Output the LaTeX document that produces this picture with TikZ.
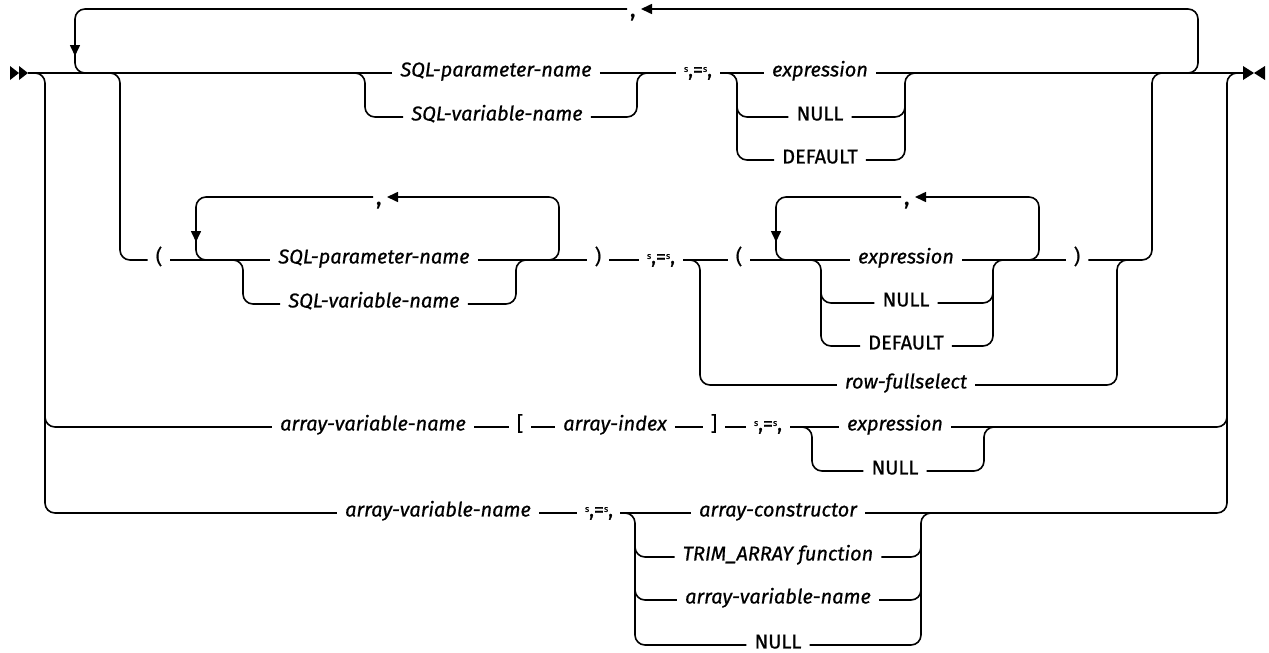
\documentclass[tikz,border=0pt]{standalone}
\usepackage{fontspec}
\setmainfont{Fira Sans}[UprightFeatures={FakeBold=0.7}, ItalicFeatures={FakeBold=0.7}]
\usetikzlibrary{arrows.meta}
\newcommand{\eqtok}{{\fontsize{9}{9}\selectfont\raisebox{0.5em}{s}},={\fontsize{9}{9}\selectfont\raisebox{0.5em}{s}},}
\tikzset{
  rail/.style={line width=1.6pt, rounded corners=10pt},
  looptip/.style={-{Triangle[length=11pt,width=10pt]}},
  txtbase/.style={font=\fontsize{20}{24}\selectfont, inner xsep=8pt, inner ysep=0pt, text height=0.69em, text depth=0pt},
  vartext/.style={txtbase, font=\fontsize{20}{24}\selectfont\itshape},
  kwtext/.style={txtbase},
  commanode/.style={font=\fontsize{21}{24}\selectfont\bfseries, inner sep=0pt, anchor=base},
  endmark/.style={fill=black},
}
\begin{document}
\begin{tikzpicture}[x=1pt,y=-1pt]
\useasboundingbox (0,0) rectangle (1269,653);
% start and end
\coordinate (start) at (28,73);
\coordinate (end) at (1243,73);
\fill[endmark] (10,66) -- (19,73) -- (10,80) -- cycle;
\fill[endmark] (19,66) -- (28,73) -- (19,80) -- cycle;
\fill[endmark] (1243,66) -- (1254,73) -- (1243,80) -- cycle;
\fill[endmark] (1265,66) -- (1254,73) -- (1265,80) -- cycle;

% ---------- row 1 ----------
\node[vartext] (p1) at (496,73) {SQL-parameter-name};
\node[vartext] (v1) at (497,117) {SQL-variable-name};
\node[kwtext] (eq1) at (698,73) {\eqtok};
\node[vartext] (e1) at (820,73) {expression};
\node[kwtext] (n1) at (820,117) {NULL};
\node[kwtext] (d1) at (820,160) {DEFAULT};
\node[commanode] (c1) at (633,17) {,};
\coordinate (c1w) at (627,9);
\coordinate (c1e) at (641,9);

\draw[rail] (start) -- (p1.west);
\draw[rail] (p1.east) -- (eq1.west);
\draw[rail] (eq1.east) -- (e1.west);
\draw[rail] (e1.east) -- (end);
% repeat loop
\draw[rail,looptip] (1180,73) -- (1198,73) -- (1198,9) -- (c1e);
\draw[rail,looptip] (c1w) -- (75,9) -- (75,56);
\draw[rail] (75,48) -- (75,73) -- (95,73);
% SQL-variable-name branch
\draw[rail] (350,73) -- (365,73) -- (365,117) -- (v1.west);
\draw[rail] (v1.east) -- (637,117) -- (637,73) -- (652,73);
% value choice
\draw[rail] (722,73) -- (737,73) -- (737,160) -- (d1.west);
\draw[rail] (737,105) -- (737,117) -- (n1.west);
\draw[rail] (d1.east) -- (905,160) -- (905,73) -- (920,73);
\draw[rail] (n1.east) -- (905,117) -- (905,105);

% ---------- row 2 ----------
\node[kwtext] (lp2) at (159,260) {(};
\node[vartext] (p2) at (374,260) {SQL-parameter-name};
\node[vartext] (v2) at (374,304) {SQL-variable-name};
\node[kwtext] (rp2) at (598,260) {)};
\node[kwtext] (eq2) at (661,260) {\eqtok};
\node[kwtext] (lp3) at (739,260) {(};
\node[vartext] (e2) at (906,260) {expression};
\node[kwtext] (n2) at (906,303) {NULL};
\node[kwtext] (d2) at (906,346) {DEFAULT};
\node[kwtext] (rp3) at (1077,260) {)};
\node[vartext] (rf) at (906,385) {row-fullselect};
\node[commanode] (c2) at (379,205) {,};
\coordinate (c2w) at (373,197);
\coordinate (c2e) at (387,197);
\node[commanode] (c3) at (907,205) {,};
\coordinate (c3w) at (901,197);
\coordinate (c3e) at (915,197);

\draw[rail] (100,73) -- (120,73) -- (120,260) -- (lp2.west);
\draw[rail] (lp2.east) -- (p2.west);
\draw[rail,looptip] (540,260) -- (559,260) -- (559,197) -- (c2e);
\draw[rail,looptip] (c2w) -- (196,197) -- (196,242);
\draw[rail] (196,234) -- (196,260) -- (215,260);
\draw[rail] (228,260) -- (243,260) -- (243,304) -- (v2.west);
\draw[rail] (v2.east) -- (516,304) -- (516,260) -- (531,260);
\draw[rail] (p2.east) -- (rp2.west);
\draw[rail] (rp2.east) -- (eq2.west);
\draw[rail] (eq2.east) -- (lp3.west);
\draw[rail] (685,260) -- (700,260) -- (700,385) -- (rf.west);
\draw[rail] (rf.east) -- (1117,385) -- (1117,260) -- (1132,260);
\draw[rail] (lp3.east) -- (e2.west);
\draw[rail,looptip] (1020,260) -- (1039,260) -- (1039,197) -- (c3e);
\draw[rail,looptip] (c3w) -- (776,197) -- (776,242);
\draw[rail] (776,234) -- (776,260) -- (795,260);
\draw[rail] (806,260) -- (821,260) -- (821,346) -- (d2.west);
\draw[rail] (821,291) -- (821,303) -- (n2.west);
\draw[rail] (d2.east) -- (993,346) -- (993,260) -- (1008,260);
\draw[rail] (n2.east) -- (993,303) -- (993,291);
\draw[rail] (e2.east) -- (rp3.west);
\draw[rail] (rp3.east) -- (1152,260) -- (1152,73) -- (1167,73);

% ---------- row 3 ----------
\node[vartext] (a3) at (373,427) {array-variable-name};
\node[kwtext] (lb) at (520,427) {[};
\node[vartext] (ai) at (615,427) {array-index};
\node[kwtext] (rb) at (714,427) {]};
\node[kwtext] (eq3) at (768,427) {\eqtok};
\node[vartext] (e3) at (895,427) {expression};
\node[kwtext] (n3) at (895,471) {NULL};

\draw[rail] (45,400) -- (45,427) -- (a3.west);
\draw[rail] (a3.east) -- (lb.west);
\draw[rail] (lb.east) -- (ai.west);
\draw[rail] (ai.east) -- (rb.west);
\draw[rail] (rb.east) -- (eq3.west);
\draw[rail] (eq3.east) -- (e3.west);
\draw[rail] (797,427) -- (812,427) -- (812,471) -- (n3.west);
\draw[rail] (n3.east) -- (984,471) -- (984,427) -- (999,427);
\draw[rail] (e3.east) -- (1227,427) -- (1227,405);

% ---------- row 4 ----------
\node[vartext] (a4) at (438,513) {array-variable-name};
\node[kwtext] (eq4) at (599,513) {\eqtok};
\node[vartext] (ac) at (778,513) {array-constructor};
\node[vartext] (tr) at (778,557) {TRIM\_ARRAY function};
\node[vartext] (av) at (778,600) {array-variable-name};
\node[kwtext] (n4) at (778,645) {NULL};

\draw[rail] (30,73) -- (45,73) -- (45,513) -- (a4.west);
\draw[rail] (a4.east) -- (eq4.west);
\draw[rail] (eq4.east) -- (ac.west);
\draw[rail] (620,513) -- (635,513) -- (635,645) -- (n4.west);
\draw[rail] (635,545) -- (635,557) -- (tr.west);
\draw[rail] (635,588) -- (635,600) -- (av.west);
\draw[rail] (n4.east) -- (921,645) -- (921,513) -- (936,513);
\draw[rail] (tr.east) -- (921,557) -- (921,545);
\draw[rail] (av.east) -- (921,600) -- (921,588);
\draw[rail] (ac.east) -- (1227,513) -- (1227,73) -- (1242,73);
\end{tikzpicture}
\end{document}
